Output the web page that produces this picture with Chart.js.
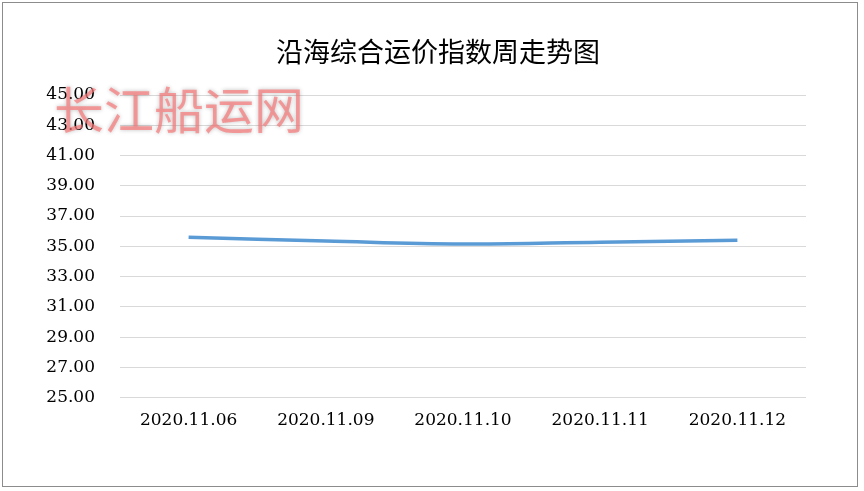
<!DOCTYPE html>
<html>
<head>
<meta charset="utf-8">
<script src="https://cdn.jsdelivr.net/npm/chart.js@4/dist/chart.umd.min.js"></script>
<style>
  body { margin: 0; background: #fff; }
  #wrap {
    position: absolute; left: 2px; top: 2px;
    width: 854px; height: 483px;
    border: 1px solid #8c8c8c;
  }
</style>
</head>
<body>
<div id="wrap"><canvas id="freightChart"></canvas></div>
<script>
// ------- data -------
const chartTitle = "沿海综合运价指数周走势图";
const watermarkText = "长江船运网";
const weekDates = ["2020.11.06", "2020.11.09", "2020.11.10", "2020.11.11", "2020.11.12"];
const indexValues = [35.6, 35.35, 35.15, 35.27, 35.4];
const yMin = 25;
const yMax = 45;
const yStep = 2;

// title + stamped site logo, drawn by hand so the title sits where the original does
const overlayPlugin = {
  id: "overlay",
  afterDraw(chart) {
    const ctx = chart.ctx;
    ctx.save();
    ctx.font = '27px "Noto Sans CJK SC"';
    ctx.textAlign = "center";
    ctx.textBaseline = "middle";
    ctx.fillStyle = "#000";
    ctx.fillText(chartTitle, 435, 49);

    ctx.font = '50px "Noto Sans CJK SC"';
    ctx.textAlign = "left";
    ctx.shadowColor = "rgba(0,0,0,0.35)";
    ctx.shadowBlur = 4;
    ctx.fillStyle = "rgba(248, 120, 120, 0.7)";
    ctx.fillText(watermarkText, 51, 107);
    ctx.restore();
  }
};

const tickFont = { family: '"DejaVu Serif"', size: 17 };

new Chart(document.getElementById("freightChart"), {
  type: "line",
  data: {
    labels: weekDates,
    datasets: [{
      label: chartTitle,
      data: indexValues,
      borderColor: "#5b9bd5",
      borderWidth: 3.5,
      tension: 0.4,
      pointRadius: 0,
      fill: false
    }]
  },
  options: {
    responsive: true,
    maintainAspectRatio: false,
    animation: false,
    layout: { padding: { left: 0, right: 51, top: 92, bottom: 42 } },
    plugins: {
      legend: { display: false },
      tooltip: { enabled: false },
      title: { display: false }
    },
    scales: {
      x: {
        offset: true,
        grid: { display: false, drawTicks: false },
        border: { display: false },
        ticks: { color: "#000", font: tickFont, padding: 13, maxRotation: 0 }
      },
      y: {
        min: yMin,
        max: yMax,
        afterFit(scale) { scale.width = 117; },
        grid: { color: "#d9d9d9", drawTicks: false },
        border: { display: false },
        ticks: {
          stepSize: yStep,
          color: "#000",
          font: tickFont,
          padding: 25,
          callback: v => v.toFixed(2)
        }
      }
    }
  },
  plugins: [overlayPlugin]
});
</script>
</body>
</html>
